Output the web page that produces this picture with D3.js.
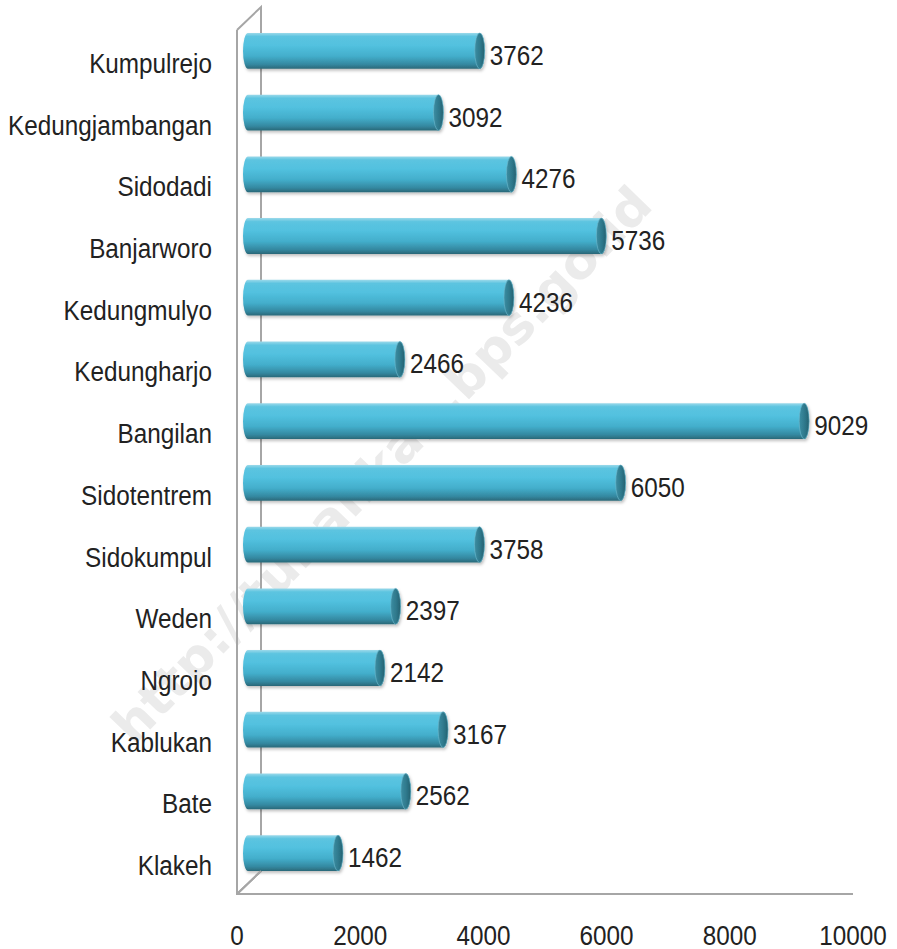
<!DOCTYPE html>
<html>
<head>
<meta charset="utf-8">
<script src="https://cdn.jsdelivr.net/npm/d3@7"></script>
<style>
  html, body { margin: 0; padding: 0; background: #fff; }
  svg text.lbl { font-family: "Liberation Sans", Arial, sans-serif; font-size: 27px; fill: #222; }
</style>
</head>
<body>
<div id="chart"></div>
<script>
// Data
const villages = ['Kumpulrejo', 'Kedungjambangan', 'Sidodadi', 'Banjarworo', 'Kedungmulyo',
    'Kedungharjo', 'Bangilan', 'Sidotentrem', 'Sidokumpul', 'Weden', 'Ngrojo',
    'Kablukan', 'Bate', 'Klakeh'];
const counts = [3762, 3092, 4276, 5736, 4236, 2466, 9029, 6050, 3758, 2397, 2142, 3167, 2562, 1462];
const xTicks = [0, 2000, 4000, 6000, 8000, 10000];

const W = 897, H = 949;
const plot = { left: 237, right: 853, top: 30, bottom: 894 };
const depth = { dx: 24, dy: -23 };   // back wall offset
const barShift = { dx: 11, dy: -10 }; // bars sit half way in
const capRx = 5;
const squeeze = 0.9; // narrow the text like the original font

const svg = d3.select('#chart')
    .append('svg')
    .attr('width', W)
    .attr('height', H);

const x = d3.scaleLinear()
    .domain([0, 10000])
    .range([plot.left, plot.right]);

const y = d3.scaleBand()
    .domain(villages)
    .range([plot.top, plot.bottom])
    .paddingInner(0.42)
    .paddingOuter(0.21);

const defs = svg.append('defs');
const grad = defs.append('linearGradient')
    .attr('id', 'cyl')
    .attr('x1', 0).attr('y1', 0).attr('x2', 0).attr('y2', 1);
[['0%', '#9bd9ea'], ['10%', '#5cc4e0'], ['35%', '#52c1df'], ['65%', '#43aecb'],
 ['88%', '#3488a0'], ['100%', '#2a6878']].forEach(s => {
    grad.append('stop').attr('offset', s[0]).attr('stop-color', s[1]);
});
const capGrad = defs.append('linearGradient')
    .attr('id', 'cap')
    .attr('x1', 0).attr('y1', 0).attr('x2', 1).attr('y2', 0);
[['0%', '#3c8ea3'], ['60%', '#2d7689'], ['100%', '#25606f']].forEach(s => {
    capGrad.append('stop').attr('offset', s[0]).attr('stop-color', s[1]);
});
defs.append('filter')
    .attr('id', 'shadow')
    .attr('x', '-5%').attr('y', '-20%').attr('width', '110%').attr('height', '160%')
    .append('feDropShadow')
    .attr('dx', 1).attr('dy', 2).attr('stdDeviation', 1.5)
    .attr('flood-color', '#000').attr('flood-opacity', 0.25);

// Watermark
svg.append('text')
    .attr('transform', 'translate(382,465) rotate(-46)')
    .attr('text-anchor', 'middle')
    .attr('dominant-baseline', 'central')
    .attr('textLength', 750)
    .attr('lengthAdjust', 'spacingAndGlyphs')
    .style('font-family', '"DejaVu Sans", sans-serif')
    .style('font-weight', 'bold')
    .style('font-size', '50px')
    .style('fill', '#ebebeb')
    .text('http://tubankab.bps.go.id');

// 3D frame, back part
svg.append('path')
    .attr('d', `M${plot.left},${plot.top} L${plot.left + depth.dx},${plot.top + depth.dy} L${plot.left + depth.dx},${plot.bottom + depth.dy} L${plot.left},${plot.bottom}`)
    .attr('fill', 'none')
    .attr('stroke', '#a6a6a6')
    .attr('stroke-width', 2);

// Bars (cylinders)
const bars = svg.append('g')
    .selectAll('g')
    .data(villages)
    .enter()
    .append('g')
    .attr('filter', 'url(#shadow)');

function cylPath(d, i) {
    const x0 = x(0) + barShift.dx;
    const x1 = x(counts[i]) + barShift.dx;
    const y0 = y(d) + barShift.dy;
    const h = y.bandwidth();
    const ry = h / 2;
    return `M${x0},${y0} L${x1},${y0} A${capRx},${ry} 0 0 1 ${x1},${y0 + h} L${x0},${y0 + h} A${capRx},${ry} 0 0 1 ${x0},${y0}Z`;
}

bars.append('path')
    .attr('d', cylPath)
    .attr('fill', 'url(#cyl)');

bars.append('ellipse')
    .attr('cx', (d, i) => x(counts[i]) + barShift.dx)
    .attr('cy', d => y(d) + barShift.dy + y.bandwidth() / 2)
    .attr('rx', capRx)
    .attr('ry', y.bandwidth() / 2)
    .attr('fill', 'url(#cap)')
    .attr('stroke', '#6fb9cc')
    .attr('stroke-width', 0.6);

// Front axis lines
svg.append('path')
    .attr('d', `M${plot.left},${plot.top} L${plot.left},${plot.bottom} L${plot.right},${plot.bottom} M${plot.left},${plot.bottom} L${plot.left + depth.dx},${plot.bottom + depth.dy}`)
    .attr('fill', 'none')
    .attr('stroke', '#a6a6a6')
    .attr('stroke-width', 2);

// Value labels
svg.append('g')
    .selectAll('text')
    .data(villages)
    .enter()
    .append('text')
    .attr('class', 'lbl')
    .attr('transform', (d, i) => `translate(${x(counts[i]) + barShift.dx + capRx + 5},${y(d) + barShift.dy + y.bandwidth() / 2 + 14}) scale(${squeeze},1)`)
    .text((d, i) => counts[i]);

// Category labels
svg.append('g')
    .selectAll('text')
    .data(villages)
    .enter()
    .append('text')
    .attr('class', 'lbl')
    .attr('transform', d => `translate(212,${y(d) + y.bandwidth() / 2 + 12}) scale(${squeeze},1)`)
    .attr('text-anchor', 'end')
    .text(d => d);

// X tick labels
svg.append('g')
    .selectAll('text')
    .data(xTicks)
    .enter()
    .append('text')
    .attr('class', 'lbl')
    .attr('transform', d => `translate(${x(d)},945) scale(${squeeze},1)`)
    .attr('text-anchor', 'middle')
    .text(d => d);
</script>
</body>
</html>
